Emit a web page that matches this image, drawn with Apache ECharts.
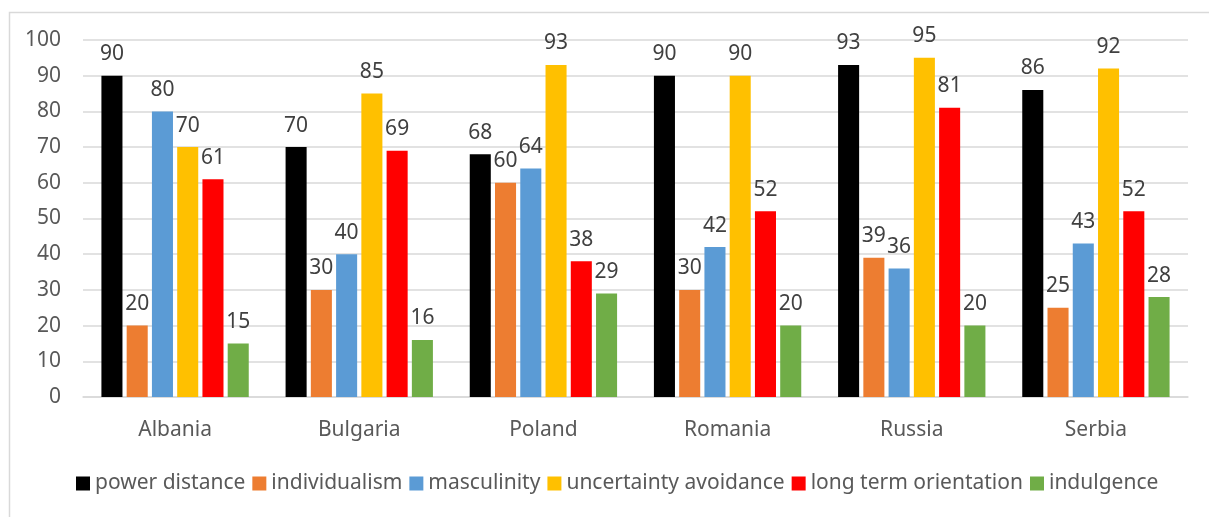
<!DOCTYPE html>
<html><head><meta charset="utf-8">
<script src="https://cdn.jsdelivr.net/npm/echarts@6/dist/echarts.min.js"></script>
<style>html,body{margin:0;padding:0;background:#fff}#c{width:1209px;height:517px}</style>
</head><body><div id="c"></div>
<script>
const categories = ["Albania","Bulgaria","Poland","Romania","Russia","Serbia"];
const seriesNames = ["power distance","individualism","masculinity","uncertainty avoidance","long term orientation","indulgence"];
const powerDistance = [90,70,68,90,93,86];
const individualism = [20,30,60,30,39,25];
const masculinity = [80,40,64,42,36,43];
const uncertaintyAvoidance = [70,85,93,90,95,92];
const longTermOrientation = [61,69,38,52,81,52];
const indulgence = [15,16,29,20,20,28];
const yTicks = [0,10,20,30,40,50,60,70,80,90,100];
const colors = ["#000000","#ED7D31","#5B9BD5","#FFC000","#FF0000","#70AD47"];

const values = [powerDistance, individualism, masculinity, uncertaintyAvoidance, longTermOrientation, indulgence];
const FONT = "'Noto Sans', sans-serif";
const chart = echarts.init(document.getElementById('c'));
chart.setOption({
  animation:false,
  textStyle:{fontFamily:FONT},
  graphic:[{type:'rect',left:7,top:10,shape:{width:1220,height:520},style:{fill:null,stroke:'#d9d9d9',lineWidth:1.5},silent:true,z:-1}],
  grid:{left:83,right:21,top:40,bottom:120},
  legend:{bottom:18,left:71,itemWidth:14,itemHeight:14,itemGap:7,icon:'rect',
    textStyle:{fontSize:21,color:'#595959',fontFamily:FONT},data:seriesNames},
  xAxis:{type:'category',data:categories,axisTick:{show:false},
    axisLine:{lineStyle:{color:'#d9d9d9',width:1.5}},
    axisLabel:{fontSize:21,color:'#595959',margin:23,fontFamily:FONT}},
  yAxis:{type:'value',min:yTicks[0],max:yTicks[yTicks.length-1],interval:10,
    axisLine:{show:false},axisTick:{show:false},
    splitLine:{lineStyle:{color:'#d9d9d9',width:1.5}},
    axisLabel:{fontSize:21,color:'#595959',margin:22,fontFamily:FONT}},
  series: seriesNames.map((n,i)=>({
    name:n,type:'bar',data:values[i],barGap:'20%',barCategoryGap:'20%',
    itemStyle:{color:colors[i]},
    label:{show:true,position:'top',distance:11,fontSize:21,color:'#404040',fontFamily:FONT}
  }))
});
</script></body></html>
